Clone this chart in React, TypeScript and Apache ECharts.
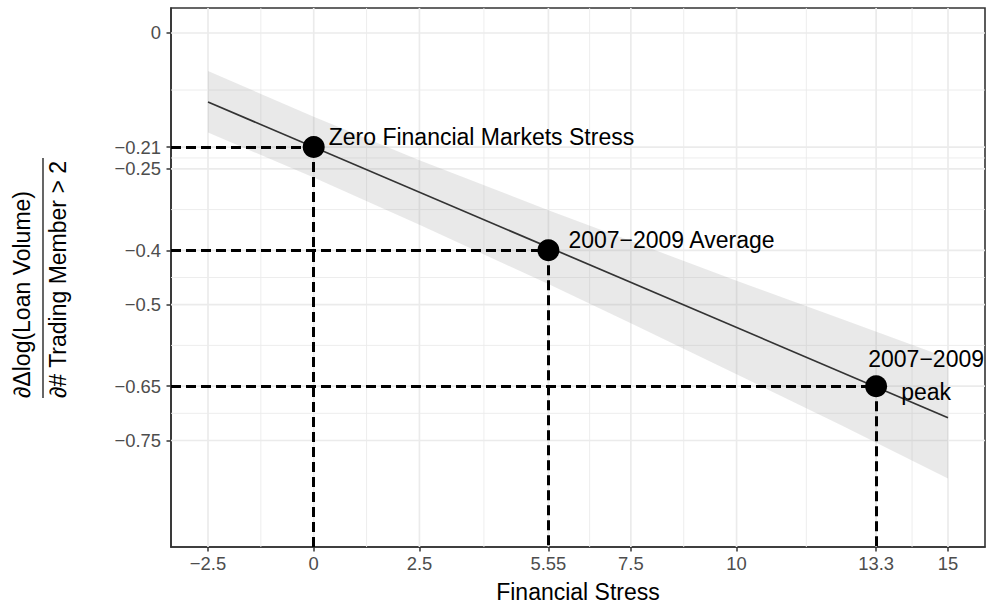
import React, { useEffect, useRef } from "react";
import * as echarts from "echarts";

// Axis breaks (tick positions) for Financial Stress and the marginal effect
const X_BREAKS = [-2.5, 0, 2.5, 5.55, 7.5, 10, 13.3, 15];
const Y_BREAKS = [0, -0.21, -0.25, -0.4, -0.5, -0.65, -0.75];

// Panel limits
const X_MIN = -3.375;
const X_MAX = 15.875;
const Y_MIN = -0.946;
const Y_MAX = 0.046;

// Fitted linear effect and its confidence band
const FIT_X = [-2.5, 15];
const FIT_Y = [-0.127, -0.708];
const BAND_X = [-2.5, 0, 2.5, 5.55, 7.5, 10, 12.5, 15];
const BAND_UPPER = [-0.07, -0.154, -0.234, -0.326, -0.383, -0.456, -0.527, -0.598];
const BAND_LOWER = [-0.183, -0.266, -0.353, -0.462, -0.534, -0.628, -0.723, -0.82];

// Highlighted stress scenarios
const POINT_X = [0, 5.55, 13.3];
const POINT_Y = [-0.21, -0.4, -0.65];
const POINT_LABELS = ["Zero Financial Markets Stress", "2007\u22122009 Average", "2007\u22122009\npeak"];

const FONT = "'Liberation Sans', Arial, Helvetica, sans-serif";
const GRID_COLOR = "#EBEBEB";
const INK = "#333333";

// ggplot-style minor breaks halfway between major ones
const midpoints = (breaks: number[]) => {
  const s = [...breaks].sort((a, b) => a - b);
  const out: number[] = [];
  for (let i = 0; i < s.length - 1; i++) out.push((s[i] + s[i + 1]) / 2);
  return out;
};

const fmt = (v: number) => String(v).replace("-", "\u2212");

export default function App() {
  const ref = useRef<HTMLDivElement>(null);

  useEffect(() => {
    if (!ref.current) return;
    const chart = echarts.init(ref.current, undefined, { renderer: "svg" });

    const xMinor = midpoints(X_BREAKS);
    const yMinor = midpoints(Y_BREAKS);

    const gridSeries = {
      type: "custom",
      z: 1,
      silent: true,
      data: [0],
      renderItem: (params: any, api: any) => {
        const cs = params.coordSys;
        const children: any[] = [];
        const vline = (v: number, w: number) => {
          const px = api.coord([v, Y_MIN])[0];
          children.push({
            type: "line",
            shape: { x1: px, y1: cs.y, x2: px, y2: cs.y + cs.height },
            style: { stroke: GRID_COLOR, lineWidth: w },
          });
        };
        const hline = (v: number, w: number) => {
          const py = api.coord([X_MIN, v])[1];
          children.push({
            type: "line",
            shape: { x1: cs.x, y1: py, x2: cs.x + cs.width, y2: py },
            style: { stroke: GRID_COLOR, lineWidth: w },
          });
        };
        xMinor.forEach((v) => vline(v, 0.9));
        yMinor.forEach((v) => hline(v, 0.9));
        X_BREAKS.forEach((v) => vline(v, 1.7));
        Y_BREAKS.forEach((v) => hline(v, 1.7));
        return { type: "group", children };
      },
    };

    const bandSeries = {
      type: "custom",
      z: 2,
      silent: true,
      data: BAND_X.map((x, i) => [x, BAND_LOWER[i], BAND_UPPER[i]]),
      encode: { x: 0, y: [1, 2] },
      renderItem: (params: any, api: any) => {
        if (params.dataIndex !== 0) return null;
        const upper = BAND_X.map((x, i) => api.coord([x, BAND_UPPER[i]]));
        const lower = BAND_X.map((x, i) => api.coord([x, BAND_LOWER[i]])).reverse();
        return {
          type: "polygon",
          shape: { points: upper.concat(lower) },
          style: { fill: "rgba(153,153,153,0.22)" },
        };
      },
    };

    const labelOffsets = [
      { align: "left", offset: [15, -10] },
      { align: "left", offset: [20, -10] },
      { align: "center", offset: [50, -11] },
    ];

    const guides: any[] = [];
    POINT_X.forEach((x, i) => {
      const y = POINT_Y[i];
      guides.push([{ coord: [X_MIN, y] }, { coord: [x, y] }]);
      guides.push([{ coord: [x, y] }, { coord: [x, Y_MIN] }]);
    });

    const option: any = {
      animation: false,
      backgroundColor: "#ffffff",
      grid: {
        left: 171,
        right: 4,
        top: 8,
        bottom: 60,
        show: true,
        borderColor: INK,
        borderWidth: 1.6,
        backgroundColor: "transparent",
        containLabel: false,
        outerBoundsMode: "none",
      },
      xAxis: {
        type: "value",
        min: X_MIN,
        max: X_MAX,
        splitLine: { show: false },
        axisLine: { show: true, onZero: false, lineStyle: { color: INK, width: 1.6 } },
        axisTick: { show: true, customValues: X_BREAKS, length: 4.5, lineStyle: { color: INK, width: 1.5 } },
        axisLabel: {
          customValues: X_BREAKS,
          formatter: fmt,
          color: "#4D4D4D",
          fontSize: 18.4,
          fontFamily: FONT,
          margin: 7,
        },
      },
      yAxis: {
        type: "value",
        min: Y_MIN,
        max: Y_MAX,
        splitLine: { show: false },
        axisLine: { show: true, onZero: false, lineStyle: { color: INK, width: 1.6 } },
        axisTick: { show: true, customValues: Y_BREAKS, length: 4.5, lineStyle: { color: INK, width: 1.5 } },
        axisLabel: {
          customValues: Y_BREAKS,
          formatter: fmt,
          color: "#4D4D4D",
          fontSize: 18.4,
          fontFamily: FONT,
          margin: 10,
        },
      },
      series: [
        gridSeries,
        bandSeries,
        {
          type: "line",
          z: 3,
          silent: true,
          data: FIT_X.map((x, i) => [x, FIT_Y[i]]),
          showSymbol: false,
          symbol: "none",
          lineStyle: { color: "#333333", width: 1.7 },
        },
        {
          type: "scatter",
          z: 4,
          silent: true,
          symbol: "circle",
          symbolSize: 22,
          itemStyle: { color: "#000000", opacity: 1 },
          data: POINT_X.map((x, i) => ({
            value: [x, POINT_Y[i]],
            label: {
              show: true,
              formatter: POINT_LABELS[i],
              position: "inside",
              align: labelOffsets[i].align,
              verticalAlign: "middle",
              offset: labelOffsets[i].offset,
              color: "#000000",
              opacity: 1,
              textBorderWidth: 0,
              fontSize: 23,
              lineHeight: 33,
              fontFamily: FONT,
            },
          })),
          markLine: {
            silent: true,
            symbol: ["none", "none"],
            label: { show: false },
            lineStyle: { color: "#000000", width: 3, type: [10, 5], opacity: 1 },
            data: guides,
          },
        },
      ],
      graphic: [
        {
          type: "text",
          x: 578,
          y: 592,
          style: {
            text: "Financial Stress",
            font: `23px ${FONT}`,
            fill: "#000000",
            align: "center",
            verticalAlign: "middle",
          },
        },
        {
          type: "text",
          x: 22,
          y: 398,
          rotation: Math.PI / 2,
          style: {
            text: "\u2202\u0394log(Loan Volume)",
            font: `23px ${FONT}`,
            fill: "#000000",
            align: "left",
            verticalAlign: "middle",
          },
        },
        {
          type: "line",
          shape: { x1: 43, y1: 158, x2: 43, y2: 398 },
          style: { stroke: "#000000", lineWidth: 1.2 },
        },
        {
          type: "text",
          x: 58,
          y: 398,
          rotation: Math.PI / 2,
          style: {
            text: "\u2202# Trading Member > 2",
            font: `23px ${FONT}`,
            fill: "#000000",
            align: "left",
            verticalAlign: "middle",
          },
        },
      ],
    };

    chart.setOption(option);
    return () => chart.dispose();
  }, []);

  return (
    <div
      ref={ref}
      style={{ position: "fixed", left: 0, top: 0, width: 989, height: 607 }}
    />
  );
}
